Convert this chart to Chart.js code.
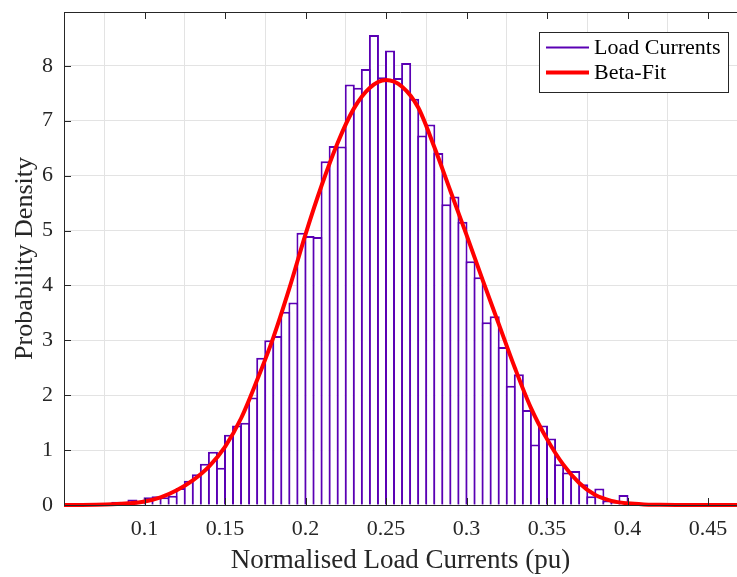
<!DOCTYPE html>
<html>
<head>
<meta charset="utf-8">
<script src="https://cdn.jsdelivr.net/npm/chart.js@4.4.1/dist/chart.umd.min.js"></script>
<style>
  html, body { margin: 0; padding: 0; background: #fff; }
  #wrap { width: 737px; height: 577px; }
</style>
</head>
<body>
<div id="wrap"><canvas id="histChart" width="737" height="577"></canvas></div>
<script>
// histogram: bins of 0.005 starting at 0.05
const binStart = 0.05;
const binWidth = 0.005;
const densities = [
    0, 0.02, 0, 0, 0, 0, 0.06, 0, 0.10, 0,
    0.14, 0.16, 0.14, 0.17, 0.31, 0.44, 0.56, 0.75, 0.97, 0.68,
    1.28, 1.45, 1.50, 1.96, 2.68, 3.00, 3.08, 3.52, 3.69, 4.96,
    4.90, 4.88, 6.26, 6.54, 6.53, 7.66, 7.60, 7.94, 8.56, 7.79,
    8.28, 7.78, 8.05, 7.40, 6.73, 6.93, 6.41, 5.48, 5.62, 5.16,
    4.44, 4.15, 3.33, 3.44, 2.88, 2.17, 2.38, 1.73, 1.10, 1.45,
    1.21, 0.74, 0.59, 0.62, 0.38, 0.16, 0.30, 0.08, 0.05, 0.18,
    0.05, 0.04, 0.02, 0.02
];

// beta fit curve
const fitX = [0.05, 0.06, 0.07, 0.08, 0.09, 0.10, 0.11, 0.12, 0.13, 0.14,
              0.15, 0.16, 0.17, 0.18, 0.19, 0.20, 0.21, 0.22, 0.23, 0.24,
              0.25, 0.26, 0.27, 0.28, 0.29, 0.30, 0.31, 0.32, 0.33, 0.34,
              0.35, 0.36, 0.37, 0.38, 0.39, 0.40, 0.41, 0.42, 0.43, 0.44,
              0.45, 0.46, 0.47];
const fitY = [0, 0.001, 0.004, 0.012, 0.03, 0.065, 0.14, 0.27, 0.45, 0.70,
              1.06, 1.58, 2.28, 3.05, 3.95, 4.93, 5.82, 6.60, 7.22, 7.60,
              7.74, 7.62, 7.24, 6.52, 5.72, 4.92, 4.10, 3.30, 2.50, 1.77,
              1.20, 0.74, 0.40, 0.18, 0.075, 0.03, 0.01, 0.004, 0.001, 0,
              0, 0, 0];

const xTicks = [0.1, 0.15, 0.2, 0.25, 0.3, 0.35, 0.4, 0.45];
const yTicks = [0, 1, 2, 3, 4, 5, 6, 7, 8];

const ink = '#262626';
const purple = '#5a00b4';
const serif = "'Liberation Serif', 'Times New Roman', serif";

Chart.defaults.font.family = serif;
Chart.defaults.color = ink;

const histData = densities.map((d, i) => ({ x: binStart + binWidth * (i + 0.5), y: d }));
const fitData = fitX.map((x, i) => ({ x, y: fitY[i] }));

// matlab style: inward ticks, top border and boxed legend
const matlabAxes = {
    id: 'matlabAxes',
    afterDatasetsDraw(chart) {
        const { ctx, chartArea: a, scales: { x, y } } = chart;
        ctx.save();
        ctx.strokeStyle = ink;
        ctx.lineWidth = 1;
        ctx.beginPath();
        ctx.moveTo(a.left, a.top + 0.5);
        ctx.lineTo(a.right, a.top + 0.5);
        ctx.moveTo(a.left + 0.5, a.top);
        ctx.lineTo(a.left + 0.5, a.bottom);
        ctx.moveTo(a.left, a.bottom + 0.5);
        ctx.lineTo(a.right, a.bottom + 0.5);
        x.ticks.forEach(t => {
            const px = Math.round(x.getPixelForValue(t.value)) + 0.5;
            ctx.moveTo(px, a.bottom);
            ctx.lineTo(px, a.bottom - 7);
            ctx.moveTo(px, a.top);
            ctx.lineTo(px, a.top + 7);
        });
        y.ticks.forEach(t => {
            const py = Math.round(y.getPixelForValue(t.value)) + 0.5;
            ctx.moveTo(a.left, py);
            ctx.lineTo(a.left + 7, py);
        });
        ctx.stroke();

        // legend
        const box = { left: 539, top: 32, right: 728, bottom: 92 };
        ctx.fillStyle = '#fff';
        ctx.fillRect(box.left, box.top, box.right - box.left, box.bottom - box.top);
        ctx.strokeStyle = ink;
        ctx.lineWidth = 1;
        ctx.strokeRect(box.left + 0.5, box.top + 0.5, box.right - box.left, box.bottom - box.top);
        const rows = [chart.data.datasets[1], chart.data.datasets[0]];
        ctx.font = '22px ' + serif;
        ctx.textBaseline = 'middle';
        ctx.textAlign = 'left';
        rows.forEach((ds, i) => {
            const cy = 47.5 + i * 25;
            ctx.strokeStyle = ds.legendColor;
            ctx.lineWidth = ds.legendWidth;
            ctx.beginPath();
            ctx.moveTo(546, cy);
            ctx.lineTo(589, cy);
            ctx.stroke();
            ctx.fillStyle = '#000';
            ctx.fillText(ds.label, 594, cy + 1);
        });
        ctx.restore();
    }
};

new Chart(document.getElementById('histChart'), {
    type: 'bar',
    data: {
        datasets: [{
            type: 'line',
            label: 'Beta-Fit',
            data: fitData,
            borderColor: '#ff0000',
            borderWidth: 4,
            pointRadius: 0,
            cubicInterpolationMode: 'monotone',
            clip: false,
            order: 0,
            legendColor: '#ff0000',
            legendWidth: 4
        }, {
            type: 'bar',
            label: 'Load Currents',
            data: histData,
            backgroundColor: '#ffffff',
            borderColor: purple,
            borderWidth: 2,
            borderSkipped: 'start',
            barPercentage: 1.25,
            categoryPercentage: 1,
            grouped: false,
            order: 1,
            legendColor: purple,
            legendWidth: 2
        }]
    },
    options: {
        responsive: false,
        animation: false,
        layout: { padding: { top: 12, right: 0, left: 0, bottom: 0 } },
        plugins: {
            legend: { display: false },
            tooltip: { enabled: false }
        },
        scales: {
            x: {
                type: 'linear',
                min: 0.05,
                max: 0.468,
                offset: false,
                afterBuildTicks: s => { s.ticks = xTicks.map(v => ({ value: v })); },
                afterFit: s => { s.height = 72; s.paddingLeft = 0; s.paddingRight = 0; },
                ticks: {
                    autoSkip: false,
                    maxRotation: 0,
                    padding: 11,
                    font: { size: 22 },
                    color: ink,
                    callback: v => String(+v.toFixed(3))
                },
                grid: { color: '#e3e3e3', drawTicks: false },
                border: { display: false },
                title: {
                    display: true,
                    text: 'Normalised Load Currents (pu)',
                    font: { size: 27 },
                    color: ink,
                    padding: { top: 0, bottom: 0 }
                }
            },
            y: {
                min: 0,
                max: 8.98,
                afterBuildTicks: s => { s.ticks = yTicks.map(v => ({ value: v })); },
                afterFit: s => { s.width = 64; s.paddingTop = 0; s.paddingBottom = 0; },
                ticks: {
                    padding: 11,
                    font: { size: 22 },
                    color: ink
                },
                grid: { color: '#e3e3e3', drawTicks: false },
                border: { display: false },
                title: {
                    display: true,
                    text: 'Probability Density',
                    font: { size: 26 },
                    color: ink,
                    padding: { top: 10, bottom: 0 }
                }
            }
        }
    },
    plugins: [matlabAxes]
});
</script>
</body>
</html>
